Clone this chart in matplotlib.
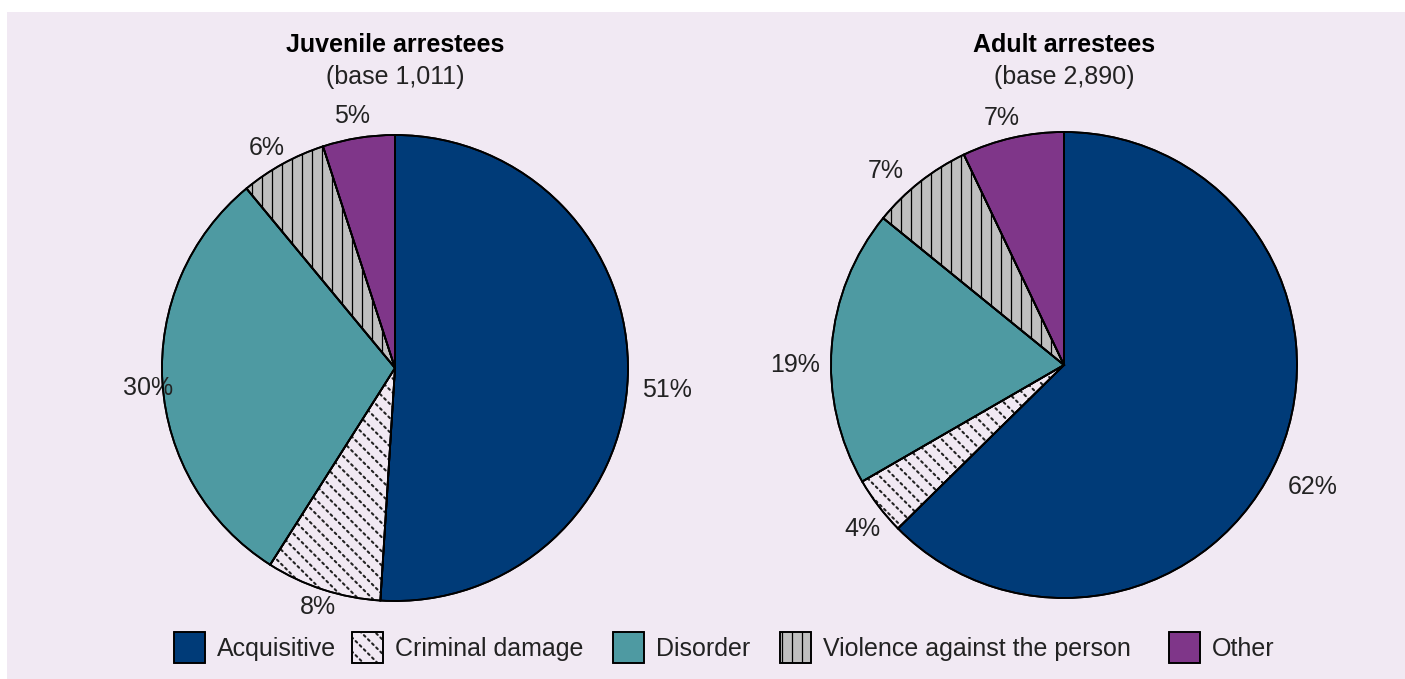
import numpy as np
import matplotlib
matplotlib.use("Agg")
import matplotlib.pyplot as plt
from matplotlib.patches import Rectangle, Wedge

# ---- data ----
categories = ["Acquisitive", "Criminal damage", "Disorder", "Violence against the person", "Other"]
juvenile_values = [51, 8, 30, 6, 5]
adult_values = [62, 4, 19, 7, 7]
juvenile_labels = ["51%", "8%", "30%", "6%", "5%"]
adult_labels = ["62%", "4%", "19%", "7%", "7%"]
titles = ["Juvenile arrestees", "Adult arrestees"]
subtitles = ["(base 1,011)", "(base 2,890)"]

colors = ["#003B78", "#F1E9F3", "#4E9AA2", "#C0C0C0", "#7F3689"]
BG = "#F1E9F3"
TXT = dict(fontsize=18, color="#222222")

plt.rcParams['font.family'] = ['Liberation Sans', 'DejaVu Sans']

W, H = 1405, 679
fig = plt.figure(figsize=(W / 100, H / 100), dpi=100)
fig.patch.set_facecolor("white")
ax = fig.add_axes([0, 0, 1, 1])
ax.set_xlim(0, W)
ax.set_ylim(0, H)
ax.axis("off")

# background panel
ax.add_patch(Rectangle((7, 0), W - 7, H - 12, facecolor=BG, edgecolor="none", zorder=0))


def hatch_lines(patch, kind, bbox, spacing=10):
    x0, y0, x1, y1 = bbox
    if kind == "vertical":
        for x in np.arange(x0, x1, spacing):
            ln, = ax.plot([x, x], [y0, y1], color="black", lw=0.9, zorder=3)
            ln.set_clip_path(patch)
    else:
        span = (x1 - x0) + (y1 - y0)
        for c in np.arange(-span, span, spacing * np.sqrt(2)):
            xs = np.array([x0 - 50, x1 + 50])
            ys = y1 - (xs - x0) + c
            ln, = ax.plot(xs, ys, color="#222222", lw=1.5,
                          linestyle=(0, (1.0, 1.8)), dash_capstyle="round", zorder=3)
            ln.set_clip_path(patch)


def draw_pie(values, labels, center, radius, label_pos):
    wedges, _ = ax.pie(values, colors=colors, startangle=90, counterclock=False,
                       center=center, radius=radius, frame=True,
                       wedgeprops=dict(edgecolor="black", linewidth=1.3))
    for w in wedges:
        w.set_zorder(2)
    bbox = (center[0] - radius, center[1] - radius, center[0] + radius, center[1] + radius)
    hatch_lines(wedges[1], "diag", bbox)
    hatch_lines(wedges[3], "vertical", bbox)
    for w in wedges:
        ax.add_patch(Wedge(w.center, w.r, w.theta1, w.theta2,
                           facecolor="none", edgecolor="black", lw=1.3, zorder=4))
    for lab, (lx, ly) in zip(labels, label_pos):
        ax.text(lx, H - ly, lab, ha="center", va="center", **TXT)


draw_pie(juvenile_values, juvenile_labels, (395, H - 368), 233,
         [(667, 390), (318, 607), (148, 388), (267, 148), (352, 116)])
draw_pie(adult_values, adult_labels, (1064, H - 365), 233,
         [(1313, 487), (862, 529), (795, 365), (886, 171), (1002, 118)])
ax.set_xlim(0, W)
ax.set_ylim(0, H)
ax.set_aspect("auto")

for cx, t, s in zip([395, 1064], titles, subtitles):
    ax.text(cx, H - 45, t, ha="center", va="center", fontsize=18, fontweight="bold", color="black")
    ax.text(cx, H - 77, s, ha="center", va="center", **TXT)

# legend
box_x = [174, 352, 613, 780, 1169]
for bx, cat, col, i in zip(box_x, categories, colors, range(5)):
    r = Rectangle((bx, H - 663), 31, 31, facecolor=col, edgecolor="black", lw=1.2, zorder=2)
    ax.add_patch(r)
    if i == 1:
        hatch_lines(r, "diag", (bx, H - 663, bx + 31, H - 632))
    if i == 3:
        hatch_lines(r, "vertical", (bx + 2, H - 663, bx + 31, H - 632))
    ax.add_patch(Rectangle((bx, H - 663), 31, 31, facecolor="none", edgecolor="black", lw=1.2, zorder=4))
    ax.text(bx + 43, H - 649, cat, ha="left", va="center", **TXT)

fig.savefig("out.png", dpi=100, facecolor="white")
